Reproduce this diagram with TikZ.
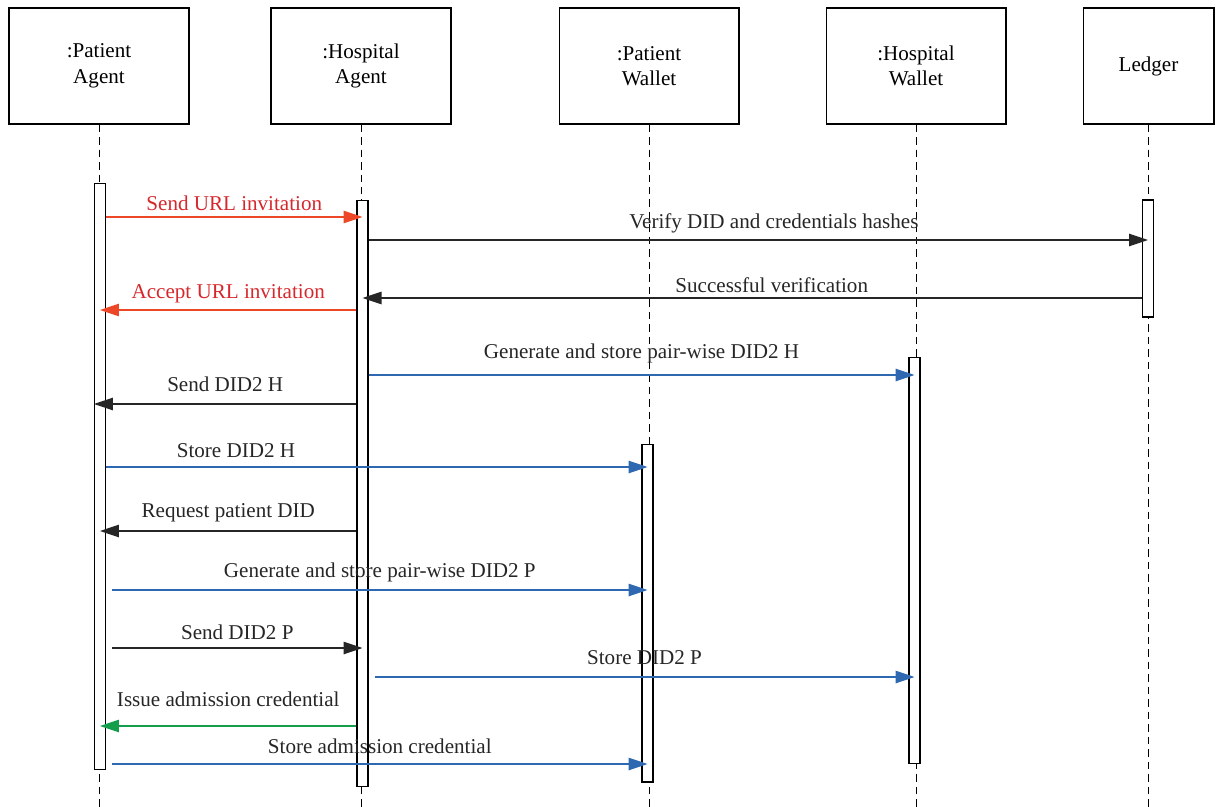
\documentclass[tikz,border=0pt]{standalone}
\usepackage{fontspec}
\setmainfont{Liberation Serif}
\usetikzlibrary{arrows.meta}
\definecolor{msgred}{RGB}{236,72,40}
\definecolor{txtred}{RGB}{214,40,44}
\definecolor{msgblue}{RGB}{46,104,176}
\definecolor{msggreen}{RGB}{20,158,76}
\begin{document}
\begin{tikzpicture}[x=0.02cm, y=-0.02cm, font=\fontsize{12}{14.5}\selectfont]

      \tikzset{lifebox/.style={draw, rectangle, line width=0.6pt, minimum width=3.6cm, minimum height=2.32cm, align=center, fill=white},
               actbar/.style={draw, rectangle, line width=0.6pt, minimum width=0.22cm, inner sep=0pt, fill=white},
               lifeline/.style={line width=0.55pt, dash pattern=on 1.5mm off 1mm},
               msg/.style={line width=0.7pt, -{Triangle[length=3.8mm, width=2.5mm]}},
               blackmsg/.style={msg, draw=black!85, fill=black!85},
               redmsg/.style={msg, draw=msgred, fill=msgred},
               bluemsg/.style={msg, draw=msgblue, fill=msgblue},
               greenmsg/.style={msg, draw=msggreen, fill=msggreen},
               lbl/.style={anchor=base, inner sep=0pt, yshift=#1*0.2mm, text=black!85}}
      \useasboundingbox (0,0) rectangle (1216,807);
%% Participants
      	\node[lifebox] (pa) at (99,66) {:Patient\\Agent};
      	\node[lifebox] (ha) at (361,66) {:Hospital\\Agent};
      	\node[lifebox] (pw) at (649,66) {:Patient\\Wallet};
      	\node[lifebox] (hw) at (916,66) {:Hospital\\Wallet};
      	\node[lifebox, minimum width=2.62cm] (ld) at (1148.5,66) {Ledger};
%% Lifelines
		\draw[lifeline] (pa.south) -- (pa |- 0,807);
		\draw[lifeline] (ha.south) -- (ha |- 0,807);
		\draw[lifeline] (pw.south) -- (pw |- 0,807);
		\draw[lifeline] (hw.south) -- (hw |- 0,807);
		\draw[lifeline] (ld.south) -- (ld |- 0,807);
%% Activations
      	\node[actbar, minimum height=11.74cm] (pabar) at (100,476.5) {};
      	\node[actbar, minimum height=11.74cm] (habar) at (362.5,493.5) {};
      	\node[actbar, minimum height=2.34cm] (ldbar) at (1148,258.5) {};
      	\node[actbar, minimum height=8.14cm] (hwbar) at (914.5,560.5) {};
      	\node[actbar, minimum height=6.76cm] (pwbar) at (647.5,613) {};
%Messages
		\draw[redmsg] (pabar.east |- 0,217) -- node[lbl=6, text=txtred] {Send URL invitation} (habar |- 0,217);
		\draw[blackmsg] (habar.east |- 0,240) -- node[lbl=12, pos=0.52] {Verify DID and credentials hashes} (ldbar |- 0,240);
		\draw[blackmsg] (ldbar.west |- 0,298) -- node[lbl=6, pos=0.475] {Successful verification} (habar |- 0,298);
		\draw[redmsg] (habar.west |- 0,310) -- node[lbl=12, text=txtred] {Accept URL invitation} (pabar |- 0,310);
		\draw[bluemsg] (habar.east |- 0,375) -- node[lbl=17] {Generate and store pair-wise DID2 H} (hwbar |- 0,375);
		\draw[blackmsg] (habar.west |- 0,404) -- node[lbl=13] {Send DID2 H} (pabar.west |- 0,404);
		\draw[bluemsg] (pabar.east |- 0,467) -- node[lbl=10, pos=0.24] {Store DID2 H} (pwbar |- 0,467);
		\draw[blackmsg] (habar.west |- 0,531) -- node[lbl=14] {Request patient DID} (pabar |- 0,531);
		\draw[bluemsg] ([xshift=0.12cm]pabar.east |- 0,590) -- node[lbl=13] {Generate and store pair-wise DID2 P} (pwbar |- 0,590);
		\draw[blackmsg] ([xshift=0.12cm]pabar.east |- 0,648) -- node[lbl=9] {Send DID2 P} (habar |- 0,648);
		\draw[bluemsg] ([xshift=0.12cm]habar.east |- 0,677) -- node[lbl=13] {Store DID2 P} (hwbar |- 0,677);
		\draw[greenmsg] (habar.west |- 0,726) -- node[lbl=20] {Issue admission credential} (pabar |- 0,726);
		\draw[bluemsg] ([xshift=0.12cm]pabar.east |- 0,764) -- node[lbl=11] {Store admission credential} (pwbar |- 0,764);

	\end{tikzpicture}
\end{document}
